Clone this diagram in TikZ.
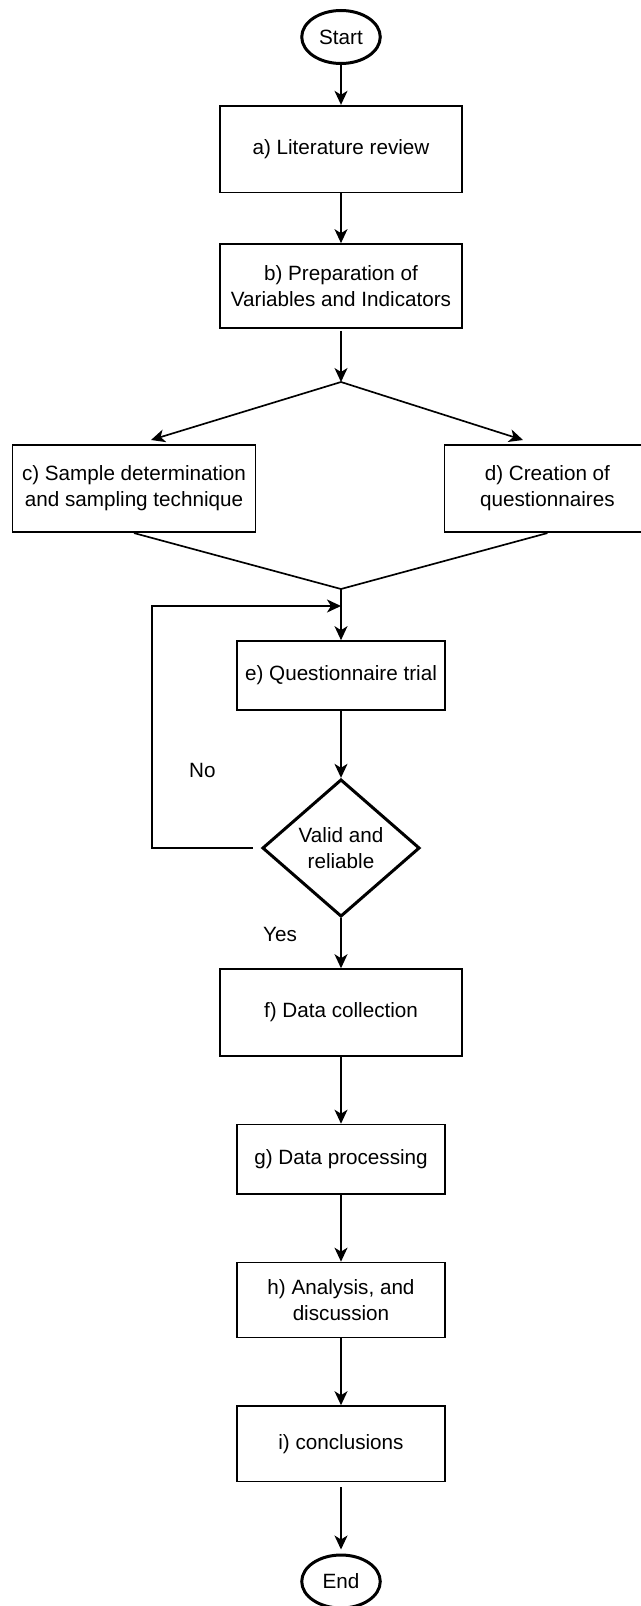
\documentclass[tikz,border=0pt]{standalone}
\usepackage{fontspec}
\setmainfont{Liberation Sans}
\usetikzlibrary{shapes.geometric,arrows.meta}

\begin{document}
\begin{tikzpicture}[x=0.75pt,y=-0.75pt,
  every node/.style={font=\fontsize{15.5pt}{19.5pt}\selectfont, text=black},
  flowbox/.style={draw, rectangle, line width=1.25pt, align=center, inner sep=2pt},
  termin/.style={draw, ellipse, line width=2.25pt, minimum width=58.9pt, minimum height=39.75pt, inner sep=0pt},
  decide/.style={draw, diamond, line width=2.25pt, align=center, minimum width=118pt, minimum height=103pt, inner sep=0pt},
  conn/.style={line width=1.25pt, -{Stealth[length=10.5pt,width=9.75pt,inset=3pt]}},
  plain/.style={line width=1.25pt},
  lbl/.style={inner sep=0pt}
]
% page frame
\fill[white] (0,0) rectangle (641,1606);
\clip (0,0) rectangle (641,1606);

% steps
\node[termin] (start) at (341,37) {Start};
\node[flowbox, minimum width=181.5pt, minimum height=65pt] (a) at (341,149) {a) Literature review};
\node[flowbox, minimum width=181.5pt, minimum height=63pt] (b) at (341,286) {b) Preparation of\\Variables and Indicators};
\coordinate (split) at (341,382);
\node[flowbox, minimum width=182.3pt, minimum height=65.6pt] (c) at (134,488.5) {c) Sample determination\\and sampling technique};
\node[flowbox, minimum width=154.5pt, minimum height=65.6pt] (d) at (547.4,488.5) {d) Creation of\\questionnaires};
\coordinate (cin) at (151,440);
\coordinate (din) at (523,440);
\coordinate (merge) at (341,589);
\coordinate (loop) at (341,606);
\coordinate (back) at (151.7,606);
\node[flowbox, minimum width=156pt, minimum height=51.75pt] (e) at (341,675.5) {e) Questionnaire trial};
\node[decide] (valid) at (341,848) {Valid and\\reliable};
\node[flowbox, minimum width=181.5pt, minimum height=65pt] (f) at (341,1012.4) {f) Data collection};
\node[flowbox, minimum width=156pt, minimum height=52pt] (g) at (341,1159.2) {g) Data processing};
\node[flowbox, minimum width=156pt, minimum height=56.25pt] (h) at (341,1300) {h) Analysis, and\\discussion};
\node[flowbox, minimum width=156pt, minimum height=56.5pt] (i) at (341,1443.7) {i) conclusions};
\node[termin] (end) at (341,1581.5) {End};

% branch labels
\node[lbl] (no) at (202.4,770.5) {No};
\node[lbl] (yes) at (280,934) {Yes};

% connectors
\draw[conn] (start) -- (a);
\draw[conn] (a) -- (b);
\draw[conn, shorten <=1.5pt] (b) -- (split);
\draw[conn] (split) -- (cin);
\draw[conn] (split) -- (din);
\draw[plain] (c.south) -- (merge) -- (d.south);
\draw[conn] (merge) -- (e);
\draw[conn] (e) -- (valid);
\draw[conn, shorten <=6pt] (valid.west) -| (back) -- (loop);
\draw[conn] (valid) -- (f);
\draw[conn] (f) -- (g);
\draw[conn] (g) -- (h);
\draw[conn] (h) -- (i);
\draw[conn, shorten <=3.75pt, shorten >=3pt] (i) -- (end);
\end{tikzpicture}
\end{document}
